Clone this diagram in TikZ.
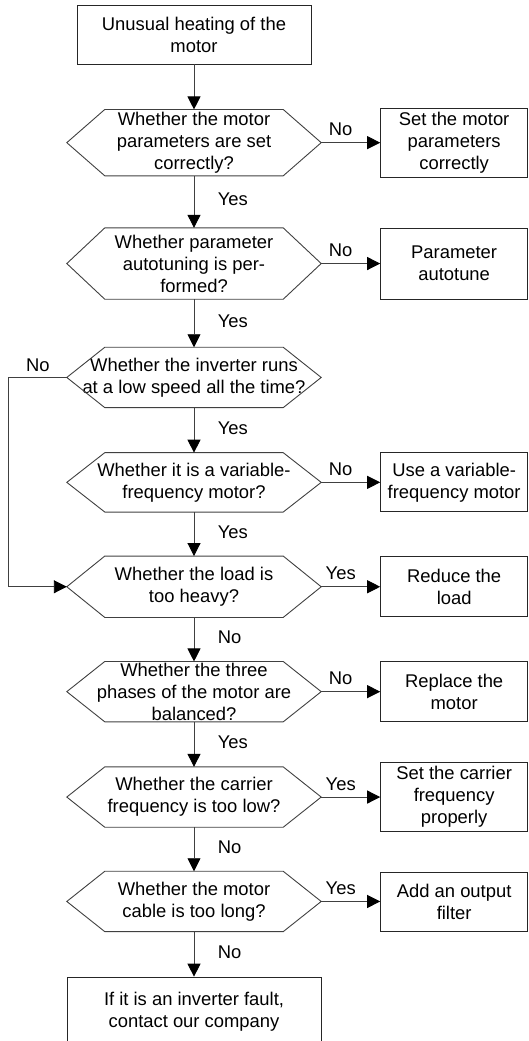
\documentclass[tikz,border=0pt]{standalone}
\usepackage{fontspec}
\setmainfont{Liberation Sans}
\usetikzlibrary{arrows.meta,positioning}

\begin{document}
\begin{tikzpicture}[x=1pt,y=1pt,>={Triangle[length=13pt,width=13pt,black]},node distance=45pt,every node/.style={font=\fontsize{18.4}{22}\selectfont}]
\useasboundingbox (0,0) rectangle (528,-1041);
\clip (0,0) rectangle (528,-1041);
\tikzstyle{box}=[draw=black!85,line width=.9pt,minimum width=147pt,align=center,inner sep=0pt]
\tikzstyle{dec}=[minimum width=254pt,align=center,inner sep=0pt]
\tikzstyle{ln}=[draw=black!75,line width=.9pt]
\tikzstyle{yn}=[right,xshift=20pt,pos=.45]
\tikzstyle{side}=[above,xshift=-10pt,yshift=3pt]
% main column
\node[box,minimum width=234pt,minimum height=59pt] (start) at (194,-34.5) {Unusual heating of the\\motor};
\node[dec,below=of start,minimum height=66pt] (d1) {Whether the motor\\parameters are set\\correctly?};
\node[dec,below=52pt of d1,minimum height=71pt] (d2) {Whether parameter\\autotuning is per-\\formed?};
\node[dec,below=48pt of d2,minimum height=60pt] (d3) {Whether the inverter runs\\at a low speed all the time?};
\node[dec,below=of d3,minimum height=59pt] (d4) {Whether it is a variable-\\frequency motor?};
\node[dec,below=44pt of d4,minimum height=61pt] (d5) {Whether the load is\\too heavy?};
\node[dec,below=44pt of d5,minimum height=60pt] (d6) {Whether the three\\phases of the motor are\\balanced?};
\node[dec,below=of d6,minimum height=60pt] (d7) {Whether the carrier\\frequency is too low?};
\node[dec,below=44pt of d7,minimum height=60pt] (d8) {Whether the motor\\cable is too long?};
\node[box,below=of d8,minimum width=254pt,minimum height=70pt] (fin) {If it is an inverter fault,\\contact our company};
% actions
\node[box,right=59pt of d1,minimum height=69pt] (r1) {Set the motor\\parameters\\correctly};
\node[box,right=59pt of d2,minimum height=71pt] (r2) {Parameter\\autotune};
\node[box,right=59pt of d4,minimum height=59pt] (r4) {Use a variable-\\frequency motor};
\node[box,right=59pt of d5,minimum height=60pt] (r5) {Reduce the\\load};
\node[box,right=59pt of d6,minimum height=60pt] (r6) {Replace the\\motor};
\node[box,right=59pt of d7,minimum height=69pt] (r7) {Set the carrier\\frequency\\properly};
\node[box,right=59pt of d8,minimum height=59pt] (r8) {Add an output\\filter};
% hexagons
\foreach \n in {d1,d2,d3,d4,d5,d6,d7,d8}
  \draw[ln] (\n.west) -- ([xshift=38pt]\n.north west) -- ([xshift=-38pt]\n.north east) -- (\n.east)
    -- ([xshift=-38pt]\n.south east) -- ([xshift=38pt]\n.south west) -- cycle;
% connectors
\draw[ln,->] (start)--(d1);
\draw[ln,->] (d1)--node[yn]{Yes}(d2);
\draw[ln,->] (d2)--node[yn]{Yes}(d3);
\draw[ln,->] (d3)--node[yn]{Yes}(d4);
\draw[ln,->] (d4)--node[yn]{Yes}(d5);
\draw[ln,->] (d5)--node[yn]{No}(d6);
\draw[ln,->] (d6)--node[yn]{Yes}(d7);
\draw[ln,->] (d7)--node[yn]{No}(d8);
\draw[ln,->] (d8)--node[yn]{No}(fin);
\draw[ln,->] (d1)--node[side]{No}(r1);
\draw[ln,->] (d2)--node[side]{No}(r2);
\draw[ln,->] (d4)--node[side]{No}(r4);
\draw[ln,->] (d5)--node[side]{Yes}(r5);
\draw[ln,->] (d6)--node[side]{No}(r6);
\draw[ln,->] (d7)--node[side]{Yes}(r7);
\draw[ln,->] (d8)--node[side]{Yes}(r8);
\draw[ln,->] (d3.west)--node[above,yshift=2pt]{No}++(-58pt,0)|-(d5.west);
\end{tikzpicture}
\end{document}
